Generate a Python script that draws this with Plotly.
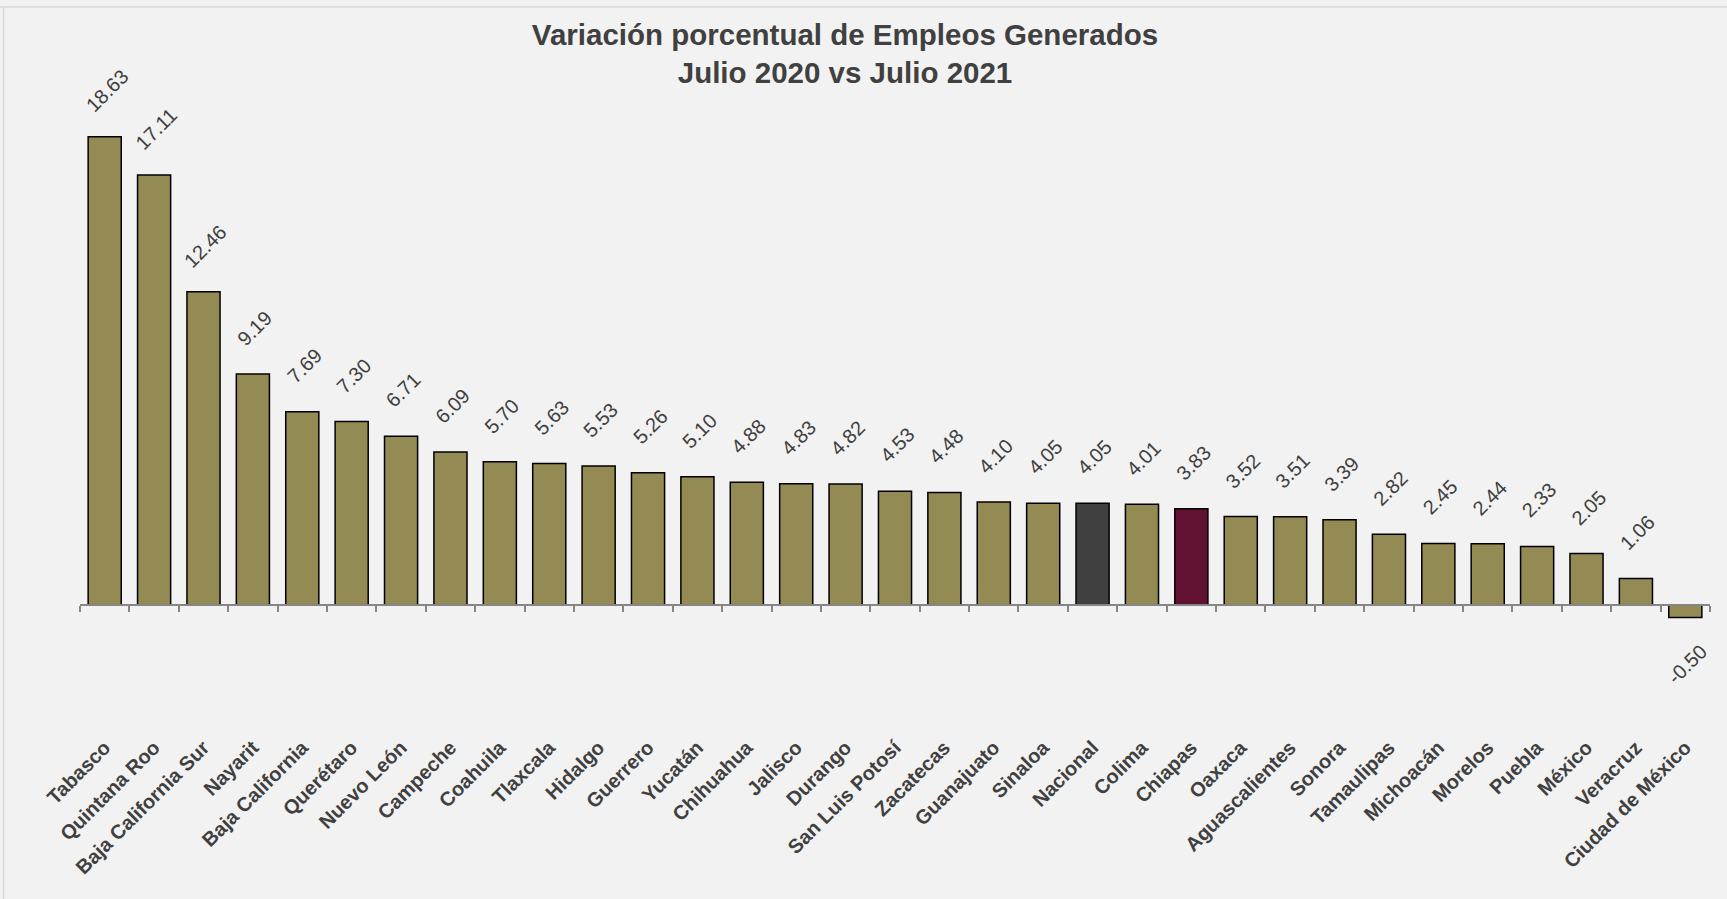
import plotly.graph_objects as go

categories = ["Tabasco", "Quintana Roo", "Baja California Sur", "Nayarit", "Baja California",
              "Querétaro", "Nuevo León", "Campeche", "Coahuila", "Tlaxcala", "Hidalgo",
              "Guerrero", "Yucatán", "Chihuahua", "Jalisco", "Durango", "San Luis Potosí",
              "Zacatecas", "Guanajuato", "Sinaloa", "Nacional", "Colima", "Chiapas", "Oaxaca",
              "Aguascalientes", "Sonora", "Tamaulipas", "Michoacán", "Morelos", "Puebla",
              "México", "Veracruz", "Ciudad de México"]
values = [18.63, 17.11, 12.46, 9.19, 7.69, 7.30, 6.71, 6.09, 5.70, 5.63, 5.53,
          5.26, 5.10, 4.88, 4.83, 4.82, 4.53, 4.48, 4.10, 4.05, 4.05, 4.01, 3.83, 3.52,
          3.51, 3.39, 2.82, 2.45, 2.44, 2.33, 2.05, 1.06, -0.50]
special_colors = {"Nacional": "#404040", "Chiapas": "#611232"}
base_color = "#948A54"

colors = [special_colors.get(c, base_color) for c in categories]
labels = [f"{v:.2f}" for v in values]

W, H = 1727, 899
L, R, T, B = 80, 17, 100, 168
ymin, ymax = -5.01, 20.09
pw, ph = W - L - R, H - T - B
zero_pos = (0 - ymin) / (ymax - ymin)
FONT = "Arial, Liberation Sans, sans-serif"

fig = go.Figure()
fig.add_trace(go.Bar(
    x=categories, y=values,
    marker=dict(color=colors, line=dict(color="#000000", width=1.5)),
    hoverinfo="x+y", showlegend=False,
))
# invisible trace to carry the category baseline axis at y=0
fig.add_trace(go.Scatter(
    x=categories, y=values, xaxis="x2", mode="markers",
    marker=dict(opacity=0), hoverinfo="skip", showlegend=False,
))

annotations = []
for c, v, t in zip(categories, values, labels):
    annotations.append(dict(
        x=c, y=v, xref="x", yref="y", text=t, textangle=-45, showarrow=False,
        xanchor="center", yanchor="middle", xshift=2, yshift=46 if v >= 0 else -46,
        font=dict(family=FONT, size=20, color="#404040"),
    ))

shapes = [
    dict(type="line", xref="paper", yref="paper",
         x0=-L / pw, x1=(W - L + 10) / pw, y0=1 + (T - 7) / ph, y1=1 + (T - 7) / ph,
         line=dict(color="#D9D9D9", width=1.5)),
    dict(type="line", xref="paper", yref="paper",
         x0=(3.5 - L) / pw, x1=(3.5 - L) / pw, y0=1 + (T - 7) / ph, y1=-(B + 10) / ph,
         line=dict(color="#D9D9D9", width=1.5)),
]

fig.update_layout(
    width=W, height=H,
    margin=dict(l=L, r=R, t=T, b=B, pad=0),
    paper_bgcolor="#F2F2F2", plot_bgcolor="#F2F2F2",
    bargap=0.33,
    title=dict(text="Variación porcentual de Empleos Generados<br>Julio 2020 vs Julio 2021",
               x=845 / W, xanchor="center", y=1 - 45 / H, yanchor="top",
               font=dict(family=FONT, size=29.5, color="#404040", weight="bold")),
    xaxis=dict(type="category", categoryorder="array", categoryarray=categories,
               range=[-0.5, len(categories) - 0.5], showline=False, ticks="",
               showgrid=False, tickangle=-45,
               tickfont=dict(family=FONT, size=20, color="#404040", weight="bold")),
    xaxis2=dict(type="category", categoryorder="array", categoryarray=categories,
                range=[-0.5, len(categories) - 0.5], overlaying="x", anchor="free",
                position=zero_pos, side="bottom", showline=True, linecolor="#868686",
                linewidth=2, ticks="outside", tickson="boundaries", ticklen=6,
                tickcolor="#868686", tickwidth=2, showticklabels=False, showgrid=False),
    yaxis=dict(range=[ymin, ymax], visible=False, showgrid=False, zeroline=False),
    annotations=annotations, shapes=shapes,
)

fig.write_html("out.html", config={"displayModeBar": False},
               post_script="document.body.style.margin='0';document.body.style.overflow='hidden';")
